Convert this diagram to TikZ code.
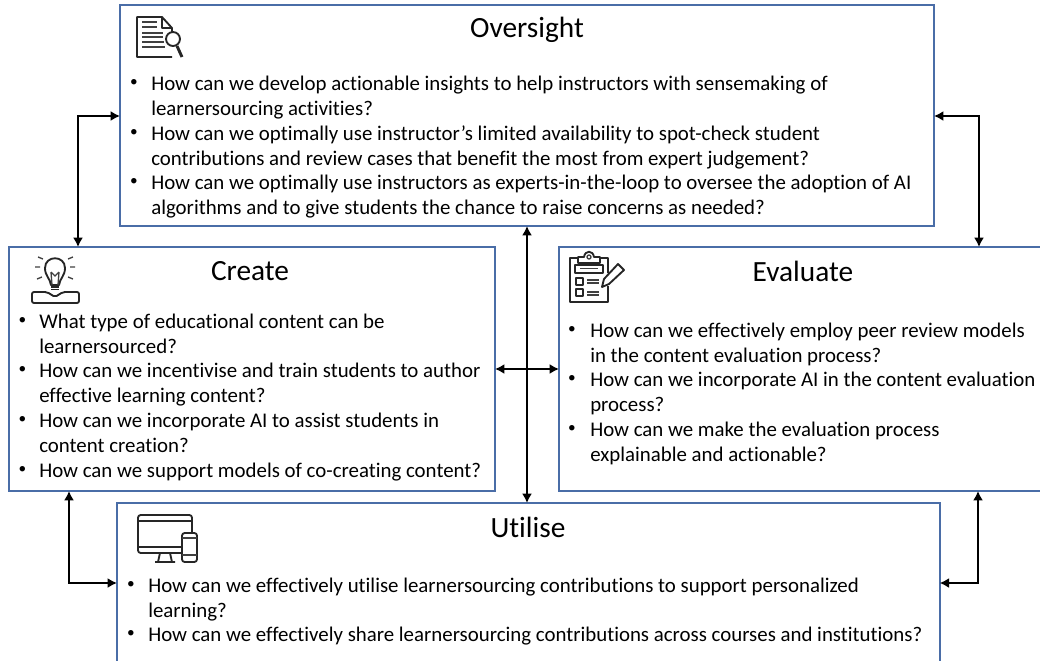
\documentclass[tikz,border=0pt]{standalone}
\usepackage{fontspec}
\setmainfont[RawFeature={-liga,-clig,-dlig}]{Carlito}
\usetikzlibrary{arrows.meta}

\definecolor{boxblue}{HTML}{4A6DA7}
\tikzset{
	panel/.style={draw=boxblue, line width=1.3pt, anchor=north west, inner sep=0pt, outer sep=0pt},
	heading/.style={font=\fontsize{22}{26}\selectfont},
	item/.style={anchor=north west, align=left, inner sep=0pt, font=\fontsize{15.65}{18.45}\selectfont},
	dot/.style={anchor=center, inner sep=0pt, font=\fontsize{11.5}{12}\selectfont},
	link/.style={line width=1.5pt, {Latex[length=7pt,width=7.5pt]}-{Latex[length=7pt,width=7.5pt]}},
	icon/.style={line width=1.4pt, draw=black!85, line join=round},
	iconthin/.style={line width=1pt, draw=black!75}
}

\begin{document}
\begin{tikzpicture}[x=0.75pt,y=-0.75pt]
	\useasboundingbox (0,0) rectangle (1040,661);
	\clip (0,0) rectangle (1040,661);

	\node[panel, minimum width=610.5pt, minimum height=165.75pt] (oversight) at (120,5) {};
	\node[panel, minimum width=364.5pt, minimum height=183pt] (create) at (9,247) {};
	\node[panel, minimum width=390pt, minimum height=183pt] (evaluate) at (559,247) {};
	\node[panel, minimum width=617pt, minimum height=150pt] (utilise) at (117,503) {};

	\node[heading] (oversighttitle) at (527,30) {Oversight};
	\node[heading] (createtitle) at (250,271.5) {Create};
	\node[heading] (evaluatetitle) at (803,271.5) {Evaluate};
	\node[heading] (utilisetitle) at (528,527) {Utilise};

	\node[dot] (od1) at (134,83) {•};
	\node[item] (o1) at (151,76) {How can we develop actionable insights to help instructors with sensemaking of\\learnersourcing activities?};
	\node[dot] (od2) at (134,133) {•};
	\node[item] (o2) at (151,125.5) {How can we optimally use instructor’s limited availability to spot-check student\\contributions and review cases that benefit the most from expert judgement?};
	\node[dot] (od3) at (134,182) {•};
	\node[item] (o3) at (151,175) {How can we optimally use instructors as experts-in-the-loop to oversee the adoption of AI\\algorithms and to give students the chance to raise concerns as needed?};

	\node[dot] (cd1) at (22.5,321) {•};
	\node[item] (c1) at (39,314) {What type of educational content can be\\learnersourced?};
	\node[dot] (cd2) at (22.5,370) {•};
	\node[item] (c2) at (39,363) {How can we incentivise and train students to author\\effective learning content?};
	\node[dot] (cd3) at (22.5,420) {•};
	\node[item] (c3) at (39,413) {How can we incorporate AI to assist students in\\content creation?};
	\node[dot] (cd4) at (22.5,470) {•};
	\node[item] (c4) at (39,463) {How can we support models of co-creating content?};

	\node[dot] (ed1) at (572,330) {•};
	\node[item] (e1) at (590,323) {How can we effectively employ peer review models\\in the content evaluation process?};
	\node[dot] (ed2) at (572,379) {•};
	\node[item] (e2) at (590,372) {How can we incorporate AI in the content evaluation\\process?};
	\node[dot] (ed3) at (572,429) {•};
	\node[item] (e3) at (590,422) {How can we make the evaluation process\\explainable and actionable?};

	\node[dot] (ud1) at (131,585) {•};
	\node[item] (u1) at (148,578) {How can we effectively utilise learnersourcing contributions to support personalized\\learning?};
	\node[dot] (ud2) at (131,634) {•};
	\node[item] (u2) at (148,627) {How can we effectively share learnersourcing contributions across courses and institutions?};

	\coordinate (topleft) at (78,116);
	\coordinate (topright) at (979,116);
	\coordinate (lowleft) at (69,583);
	\coordinate (lowright) at (978,583);
	\coordinate (middle) at (527,369);

	\draw[link] (topleft |- create.north) -- (topleft) -- (topleft -| oversight.west);
	\draw[link] (topright |- evaluate.north) -- (topright) -- (topright -| oversight.east);
	\draw[link] (lowleft |- create.south) -- (lowleft) -- (lowleft -| utilise.west);
	\draw[link] (lowright |- evaluate.south) -- (lowright) -- (lowright -| utilise.east);
	\draw[link] (middle |- oversight.south) -- (middle |- utilise.north);
	\draw[link] (middle -| create.east) -- (middle -| evaluate.west);

	% document
	\draw[icon] (172,32) -- (172,28) -- (162,17) -- (137,17) -- (137,57) -- (172,57);
	\draw[icon] (162,17) -- (162,28) -- (172,28);
	\draw[iconthin] (142,22) -- (157,22) (142,27) -- (157,27) (142,33) -- (163,33) (142,37) -- (163,37) (142,42) -- (164,42) (142,47) -- (165,47);
	\draw[icon] (173,39) circle (7);
	\draw[line width=2.2pt, black!85] (177,46) -- (182,57);

	% bulb
	\draw[icon] (51,285) .. controls (50,278) and (45,276) .. (45,268) .. controls (45,255) and (65,255) .. (65,268) .. controls (65,276) and (60,278) .. (59,285) -- cycle;
	\draw[iconthin] (52,285) -- (51,272) (58,285) -- (59,272) (51,272) -- (55,276) -- (59,272);
	\draw[icon] (51,287) -- (59,287) (51,289.5) -- (59,289.5);
	\draw[iconthin] (38,257) -- (43,259) (68,259) -- (73,257) (35,267) -- (40,267) (70,267) -- (75,267) (37,279) -- (42,277) (68,277) -- (73,279);
	\draw[icon, rounded corners=1.5pt] (55,297) -- (47,292) -- (32,292) -- (32,303) -- (79,303) -- (79,292) -- (63,292) -- cycle;

	% clipboard
	\draw[icon] (578,258) -- (570,258) -- (570,302) -- (608,302) -- (608,286);
	\draw[icon] (608,273) -- (608,258) -- (600,258) (578,263) -- (578,257) -- (584,257) .. controls (585,250) and (593,250) .. (594,257) -- (600,257) -- (600,263) -- cycle;
	\draw[iconthin] (589,257) circle (2);
	\draw[icon] (575,265) rectangle (603,273);
	\draw[iconthin] (580,268.5) -- (598,268.5);
	\draw[icon] (576,278) rectangle (583,285) (576,289) rectangle (583,296);
	\draw[iconthin] (587,280) -- (599,280) (587,283) -- (599,283) (587,292) -- (599,292) (587,295) -- (599,295);
	\draw[icon] (604,279) -- (618,264) -- (624,270) -- (609,284) -- (602,287) -- cycle;

	% screens
	\draw[icon, rounded corners=2pt] (181,553) -- (138,553) -- (138,515) -- (192,515) -- (192,533);
	\draw[icon] (138,521) -- (192,521) (138,547) -- (181,547);
	\draw[icon] (160,553) -- (158,562) (170,553) -- (172,562) (155,562) -- (175,562);
	\draw[icon, rounded corners=2pt] (182,533) rectangle (197,562);
	\draw[iconthin] (182,538) -- (197,538) (182,555) -- (197,555);
\end{tikzpicture}
\end{document}
